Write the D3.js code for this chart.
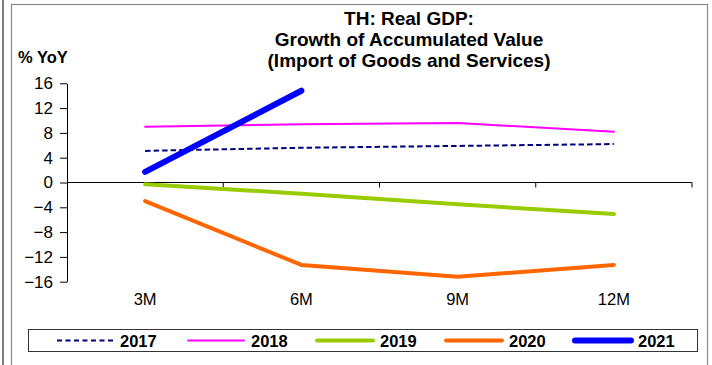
<!DOCTYPE html>
<html>
<head>
<meta charset="utf-8">
<script src="https://cdn.jsdelivr.net/npm/d3@7"></script>
<style>
  html, body { margin: 0; padding: 0; background: #fff; }
  svg { display: block; font-family: "Liberation Sans", Arial, sans-serif; }
</style>
</head>
<body>
<svg id="chart" width="712" height="365"></svg>
<script>
// Accumulated import growth, % YoY, by period within the year
const periods = ["3M", "6M", "9M", "12M"];
const yTicks = [-16, -12, -8, -4, 0, 4, 8, 12, 16];

const s2017 = [5.1, 5.6, 5.9, 6.2];
const s2018 = [9.0, 9.4, 9.6, 8.2];
const s2019 = [-0.3, -1.8, -3.5, -5.1];
const s2020 = [-3.0, -13.3, -15.2, -13.3];
const s2021 = [1.7, 14.8];

const seriesNames = ["2017", "2018", "2019", "2020", "2021"];
const seriesValues = [s2017, s2018, s2019, s2020, s2021];

const styles = {
  "2017": { color: "#000080", width: 2, dash: "5.5,3" },
  "2018": { color: "#FF00FF", width: 2, dash: null },
  "2019": { color: "#99CC00", width: 4, dash: null },
  "2020": { color: "#FF6600", width: 4, dash: null },
  "2021": { color: "#0000FF", width: 6, dash: null }
};

const svg = d3.select("#chart");

// outer frame
svg.append("line").attr("x1", 3).attr("x2", 3).attr("y1", 0).attr("y2", 365)
  .attr("stroke", "#555").attr("stroke-width", 1.5);
svg.append("rect").attr("x", 11.5).attr("y", 4.5).attr("width", 696).attr("height", 380)
  .attr("fill", "none").attr("stroke", "#8a8a8a").attr("stroke-width", 1.2);

const x = d3.scaleBand().domain(periods).range([67, 692]);
const y = d3.scaleLinear().domain([-16, 16]).range([281.7, 83.3]);

// title
const title = svg.append("text").attr("text-anchor", "middle")
  .attr("font-weight", "bold").attr("font-size", 19).attr("fill", "#000");
["TH: Real GDP:", "Growth of Accumulated Value", "(Import of Goods and Services)"]
  .forEach((t, i) => title.append("tspan").attr("x", 409).attr("y", 25 + i * 21).text(t));

svg.append("text").attr("x", 18).attr("y", 63).attr("font-weight", "bold")
  .attr("font-size", 16.5).attr("fill", "#000").text("% YoY");

// y axis
const yAxis = svg.append("g").attr("transform", "translate(67,0)")
  .call(d3.axisLeft(y).tickValues(yTicks).tickSizeInner(7).tickSizeOuter(0).tickPadding(7));
yAxis.select(".domain").attr("stroke", "#000");
yAxis.selectAll(".tick line").attr("stroke", "#000");
yAxis.selectAll("text").attr("font-size", 17).attr("fill", "#000")
  .attr("font-family", "\"Liberation Sans\", Arial, sans-serif");

// zero line with ticks at category boundaries
const zero = svg.append("g");
zero.append("line").attr("x1", 67).attr("x2", 692).attr("y1", y(0)).attr("y2", y(0))
  .attr("stroke", "#000").attr("stroke-width", 1);
const bounds = periods.map(p => x(p)).concat([x(periods[periods.length - 1]) + x.bandwidth()]);
zero.selectAll("line.tk").data(bounds.slice(1)).join("line").attr("class", "tk")
  .attr("x1", d => d).attr("x2", d => d).attr("y1", y(0)).attr("y2", y(0) + 5)
  .attr("stroke", "#000");

// category labels at the bottom of the plot
const xAxis = svg.append("g").attr("transform", `translate(0,${y(-16)})`)
  .call(d3.axisBottom(x).tickSize(0).tickPadding(12));
xAxis.select(".domain").remove();
xAxis.selectAll("text").attr("font-size", 16.5).attr("fill", "#000")
  .attr("font-family", "\"Liberation Sans\", Arial, sans-serif");

// series lines
const line = d3.line().x((d, i) => x(periods[i]) + x.bandwidth() / 2).y(d => y(d));
seriesNames.forEach((name, k) => {
  const st = styles[name];
  svg.append("path").datum(seriesValues[k]).attr("d", line)
    .attr("fill", "none").attr("stroke", st.color).attr("stroke-width", st.width)
    .attr("stroke-dasharray", st.dash).attr("stroke-linecap", st.dash ? "butt" : "round")
    .attr("stroke-linejoin", "round");
});

// legend
const lg = svg.append("g");
lg.append("rect").attr("x", 28.5).attr("y", 329.5).attr("width", 669).attr("height", 22)
  .attr("fill", "#fff").attr("stroke", "#333").attr("stroke-width", 1);
const legendX = [57, 188, 317, 446, 575];
seriesNames.forEach((name, i) => {
  const st = styles[name];
  const x0 = legendX[i];
  lg.append("line").attr("x1", x0).attr("x2", x0 + 56).attr("y1", 340.5).attr("y2", 340.5)
    .attr("stroke", st.color).attr("stroke-width", st.width)
    .attr("stroke-dasharray", st.dash ? "5,3.5" : null).attr("stroke-linecap", st.dash ? "butt" : "round");
  lg.append("text").attr("x", x0 + 63).attr("y", 346.5).attr("font-weight", "bold")
    .attr("font-size", 16.5).attr("fill", "#000").text(name);
});
</script>
</body>
</html>
